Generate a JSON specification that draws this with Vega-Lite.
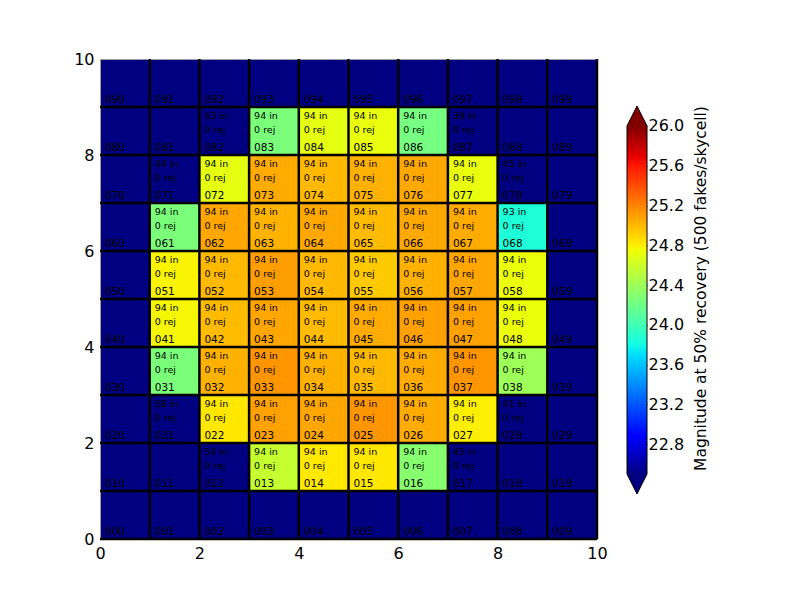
{
  "$schema": "https://vega.github.io/schema/vega-lite/v6.json",
  "autosize": {"type": "pad"},
  "padding": {"left": 69, "top": 50, "right": 20, "bottom": 20},
  "background": "white",
  "spacing": 30,
  "bounds": "flush",
  "config": {
    "font": "DejaVu Sans",
    "axis": {"labelFont": "DejaVu Sans", "titleFont": "DejaVu Sans", "labelColor": "black", "titleColor": "black", "grid": false}
  },
  "hconcat": [
    {
      "width": 497,
      "height": 480,
      "view": {"stroke": "#a0a0a0", "strokeWidth": 1, "fill": "#000080"},
      "data": {"values": [
        {"c":0,"r":9,"id":"090"},{"c":1,"r":9,"id":"091"},{"c":2,"r":9,"id":"092"},{"c":3,"r":9,"id":"093"},{"c":4,"r":9,"id":"094"},
        {"c":5,"r":9,"id":"095"},{"c":6,"r":9,"id":"096"},{"c":7,"r":9,"id":"097"},{"c":8,"r":9,"id":"098"},{"c":9,"r":9,"id":"099"},
        {"c":0,"r":8,"id":"080"},{"c":1,"r":8,"id":"081"},{"c":2,"r":8,"id":"082","n_in":43,"n_rej":0},
        {"c":3,"r":8,"id":"083","n_in":94,"n_rej":0,"mag":24.25},{"c":4,"r":8,"id":"084","n_in":94,"n_rej":0,"mag":24.70},
        {"c":5,"r":8,"id":"085","n_in":94,"n_rej":0,"mag":24.72},{"c":6,"r":8,"id":"086","n_in":94,"n_rej":0,"mag":24.23},
        {"c":7,"r":8,"id":"087","n_in":39,"n_rej":0},{"c":8,"r":8,"id":"088"},{"c":9,"r":8,"id":"089"},
        {"c":0,"r":7,"id":"070"},{"c":1,"r":7,"id":"071","n_in":44,"n_rej":0},
        {"c":2,"r":7,"id":"072","n_in":94,"n_rej":0,"mag":24.70},{"c":3,"r":7,"id":"073","n_in":94,"n_rej":0,"mag":25.05},
        {"c":4,"r":7,"id":"074","n_in":94,"n_rej":0,"mag":25.00},{"c":5,"r":7,"id":"075","n_in":94,"n_rej":0,"mag":25.03},
        {"c":6,"r":7,"id":"076","n_in":94,"n_rej":0,"mag":25.06},{"c":7,"r":7,"id":"077","n_in":94,"n_rej":0,"mag":24.72},
        {"c":8,"r":7,"id":"078","n_in":45,"n_rej":0},{"c":9,"r":7,"id":"079"},
        {"c":0,"r":6,"id":"060"},{"c":1,"r":6,"id":"061","n_in":94,"n_rej":0,"mag":24.25},
        {"c":2,"r":6,"id":"062","n_in":94,"n_rej":0,"mag":25.07},{"c":3,"r":6,"id":"063","n_in":94,"n_rej":0,"mag":25.02},
        {"c":4,"r":6,"id":"064","n_in":94,"n_rej":0,"mag":25.06},{"c":5,"r":6,"id":"065","n_in":94,"n_rej":0,"mag":24.99},
        {"c":6,"r":6,"id":"066","n_in":94,"n_rej":0,"mag":25.06},{"c":7,"r":6,"id":"067","n_in":94,"n_rej":0,"mag":25.05},
        {"c":8,"r":6,"id":"068","n_in":93,"n_rej":0,"mag":23.86},{"c":9,"r":6,"id":"069"},
        {"c":0,"r":5,"id":"050"},{"c":1,"r":5,"id":"051","n_in":94,"n_rej":0,"mag":24.78},
        {"c":2,"r":5,"id":"052","n_in":94,"n_rej":0,"mag":25.00},{"c":3,"r":5,"id":"053","n_in":94,"n_rej":0,"mag":25.10},
        {"c":4,"r":5,"id":"054","n_in":94,"n_rej":0,"mag":25.00},{"c":5,"r":5,"id":"055","n_in":94,"n_rej":0,"mag":24.94},
        {"c":6,"r":5,"id":"056","n_in":94,"n_rej":0,"mag":25.03},{"c":7,"r":5,"id":"057","n_in":94,"n_rej":0,"mag":25.07},
        {"c":8,"r":5,"id":"058","n_in":94,"n_rej":0,"mag":24.73},{"c":9,"r":5,"id":"059"},
        {"c":0,"r":4,"id":"040"},{"c":1,"r":4,"id":"041","n_in":94,"n_rej":0,"mag":24.77},
        {"c":2,"r":4,"id":"042","n_in":94,"n_rej":0,"mag":24.99},{"c":3,"r":4,"id":"043","n_in":94,"n_rej":0,"mag":25.07},
        {"c":4,"r":4,"id":"044","n_in":94,"n_rej":0,"mag":24.99},{"c":5,"r":4,"id":"045","n_in":94,"n_rej":0,"mag":25.05},
        {"c":6,"r":4,"id":"046","n_in":94,"n_rej":0,"mag":25.09},{"c":7,"r":4,"id":"047","n_in":94,"n_rej":0,"mag":25.09},
        {"c":8,"r":4,"id":"048","n_in":94,"n_rej":0,"mag":24.73},{"c":9,"r":4,"id":"049"},
        {"c":0,"r":3,"id":"030"},{"c":1,"r":3,"id":"031","n_in":94,"n_rej":0,"mag":24.25},
        {"c":2,"r":3,"id":"032","n_in":94,"n_rej":0,"mag":25.03},{"c":3,"r":3,"id":"033","n_in":94,"n_rej":0,"mag":25.13},
        {"c":4,"r":3,"id":"034","n_in":94,"n_rej":0,"mag":25.03},{"c":5,"r":3,"id":"035","n_in":94,"n_rej":0,"mag":25.00},
        {"c":6,"r":3,"id":"036","n_in":94,"n_rej":0,"mag":25.05},{"c":7,"r":3,"id":"037","n_in":94,"n_rej":0,"mag":25.13},
        {"c":8,"r":3,"id":"038","n_in":94,"n_rej":0,"mag":24.40},{"c":9,"r":3,"id":"039"},
        {"c":0,"r":2,"id":"020"},{"c":1,"r":2,"id":"021","n_in":58,"n_rej":0},
        {"c":2,"r":2,"id":"022","n_in":94,"n_rej":0,"mag":24.83},{"c":3,"r":2,"id":"023","n_in":94,"n_rej":0,"mag":25.09},
        {"c":4,"r":2,"id":"024","n_in":94,"n_rej":0,"mag":25.07},{"c":5,"r":2,"id":"025","n_in":94,"n_rej":0,"mag":25.13},
        {"c":6,"r":2,"id":"026","n_in":94,"n_rej":0,"mag":25.05},{"c":7,"r":2,"id":"027","n_in":94,"n_rej":0,"mag":24.80},
        {"c":8,"r":2,"id":"028","n_in":41,"n_rej":0},{"c":9,"r":2,"id":"029"},
        {"c":0,"r":1,"id":"010"},{"c":1,"r":1,"id":"011"},{"c":2,"r":1,"id":"012","n_in":54,"n_rej":0},
        {"c":3,"r":1,"id":"013","n_in":94,"n_rej":0,"mag":24.57},{"c":4,"r":1,"id":"014","n_in":94,"n_rej":0,"mag":24.82},
        {"c":5,"r":1,"id":"015","n_in":94,"n_rej":0,"mag":24.83},{"c":6,"r":1,"id":"016","n_in":94,"n_rej":0,"mag":24.30},
        {"c":7,"r":1,"id":"017","n_in":45,"n_rej":0},{"c":8,"r":1,"id":"018"},{"c":9,"r":1,"id":"019"},
        {"c":0,"r":0,"id":"000"},{"c":1,"r":0,"id":"001"},{"c":2,"r":0,"id":"002"},{"c":3,"r":0,"id":"003"},{"c":4,"r":0,"id":"004"},
        {"c":5,"r":0,"id":"005"},{"c":6,"r":0,"id":"006"},{"c":7,"r":0,"id":"007"},{"c":8,"r":0,"id":"008"},{"c":9,"r":0,"id":"009"}
      ]},
      "transform": [
        {"calculate": "datum.c + 1", "as": "c1"},
        {"calculate": "datum.r + 1", "as": "r1"},
        {"calculate": "datum.r + 0.75", "as": "y_in"},
        {"calculate": "datum.r + 0.455", "as": "y_rej"},
        {"calculate": "datum.r + 0.09", "as": "y_id"},
        {"calculate": "isValid(datum.n_in) ? datum.n_in + ' in' : ''", "as": "lab_in"},
        {"calculate": "isValid(datum.n_rej) ? datum.n_rej + ' rej' : ''", "as": "lab_rej"}
      ],
      "layer": [
        {
          "transform": [{"filter": "isValid(datum.mag)"}],
          "mark": {"type": "rect", "strokeWidth": 0},
          "encoding": {
            "x": {"field": "c", "type": "quantitative", "title": null,
                  "scale": {"domain": [0, 10], "nice": false, "zero": false},
                  "axis": {"values": [0, 2, 4, 6, 8, 10], "ticks": false, "domain": false, "labelFontSize": 16, "labelPadding": 6, "labelFlush": false}},
            "x2": {"field": "c1"},
            "y": {"field": "r", "type": "quantitative", "title": null,
                  "scale": {"domain": [0, 10], "nice": false, "zero": false},
                  "axis": {"values": [0, 2, 4, 6, 8, 10], "ticks": false, "domain": false, "labelFontSize": 16, "labelPadding": 6, "labelFlush": false,
                           "minExtent": 30, "maxExtent": 30}},
            "y2": {"field": "r1"},
            "color": {
              "field": "mag", "type": "quantitative", "legend": null,
              "scale": {
                "domain": [22.5, 22.885, 23.69, 23.8125, 24.74, 24.81, 25.615, 25.685, 26.0],
                "range": ["#000080", "#0000ff", "#00dbff", "#14ffe2", "#eeff08", "#ffec00", "#ff1300", "#e80000", "#800000"],
                "interpolate": "rgb", "clamp": true
              }
            }
          }
        },
        {
          "data": {"values": [{"gx":1},{"gx":2},{"gx":3},{"gx":4},{"gx":5},{"gx":6},{"gx":7},{"gx":8},{"gx":9},{"gx":10}]},
          "mark": {"type": "rule", "color": "black", "strokeWidth": 2.5},
          "encoding": {"x": {"field": "gx", "type": "quantitative", "title": null}}
        },
        {
          "data": {"values": [{"gy":0},{"gy":1},{"gy":2},{"gy":3},{"gy":4},{"gy":5},{"gy":6},{"gy":7},{"gy":8},{"gy":9}]},
          "mark": {"type": "rule", "color": "black", "strokeWidth": 2.5},
          "encoding": {"y": {"field": "gy", "type": "quantitative", "title": null}}
        },
        {
          "mark": {"type": "text", "align": "left", "baseline": "alphabetic", "dx": 5, "fontSize": 9.5, "color": "black"},
          "encoding": {
            "x": {"field": "c", "type": "quantitative", "title": null},
            "y": {"field": "y_in", "type": "quantitative", "title": null},
            "text": {"field": "lab_in"}
          }
        },
        {
          "mark": {"type": "text", "align": "left", "baseline": "alphabetic", "dx": 5, "fontSize": 9.5, "color": "black"},
          "encoding": {
            "x": {"field": "c", "type": "quantitative", "title": null},
            "y": {"field": "y_rej", "type": "quantitative", "title": null},
            "text": {"field": "lab_rej"}
          }
        },
        {
          "mark": {"type": "text", "align": "left", "baseline": "alphabetic", "dx": 5, "fontSize": 10.5, "color": "black"},
          "encoding": {
            "x": {"field": "c", "type": "quantitative", "title": null},
            "y": {"field": "y_id", "type": "quantitative", "title": null},
            "text": {"field": "id"}
          }
        }
      ]
    },
    {
      "width": 20,
      "height": 480,
      "view": {"stroke": null},
      "layer": [
        {
          "data": {"values": [{"x0": 0, "x1": 1, "lo": 22.5, "hi": 26.0}]},
          "mark": {
            "type": "rect",
            "fill": {
              "gradient": "linear", "x1": 0, "y1": 1, "x2": 0, "y2": 0,
              "stops": [
                {"offset": 0, "color": "#000080"},
                {"offset": 0.11, "color": "#0000ff"},
                {"offset": 0.34, "color": "#00dbff"},
                {"offset": 0.375, "color": "#14ffe2"},
                {"offset": 0.64, "color": "#eeff08"},
                {"offset": 0.66, "color": "#ffec00"},
                {"offset": 0.89, "color": "#ff1300"},
                {"offset": 0.91, "color": "#e80000"},
                {"offset": 1, "color": "#800000"}
              ]
            }
          },
          "encoding": {
            "x": {"field": "x0", "type": "quantitative", "axis": null, "scale": {"domain": [0, 1], "nice": false, "zero": false}},
            "x2": {"field": "x1"},
            "y": {"field": "lo", "type": "quantitative",
                  "scale": {"domain": [21.847, 26.673], "nice": false, "zero": false},
                  "axis": {
                    "orient": "right", "values": [22.8, 23.2, 23.6, 24.0, 24.4, 24.8, 25.2, 25.6, 26.0], "format": ".1f",
                    "domain": false, "tickSize": -7, "tickColor": "black", "labelFontSize": 16, "labelPadding": 8, "labelFlush": false,
                    "title": "Magnitude at 50% recovery (500 fakes/skycell)", "titleFontSize": 15.5, "titleFontWeight": "normal",
                    "titleAngle": 270, "titleAlign": "center", "titleBaseline": "alphabetic", "titleX": 58, "titleY": 229
                  }},
            "y2": {"field": "hi"}
          }
        },
        {
          "data": {"values": [{"px": 0, "py": 26.0, "pb": 26.0}, {"px": 0.5, "py": 26.2, "pb": 26.0}, {"px": 1, "py": 26.0, "pb": 26.0}]},
          "mark": {"type": "area", "color": "#800000", "opacity": 1},
          "encoding": {
            "x": {"field": "px", "type": "quantitative"},
            "y": {"field": "py", "type": "quantitative"},
            "y2": {"field": "pb"}
          }
        },
        {
          "data": {"values": [{"px": 0, "py": 22.5, "pb": 22.5}, {"px": 0.5, "py": 22.3, "pb": 22.5}, {"px": 1, "py": 22.5, "pb": 22.5}]},
          "mark": {"type": "area", "color": "#000080", "opacity": 1},
          "encoding": {
            "x": {"field": "px", "type": "quantitative"},
            "y": {"field": "py", "type": "quantitative"},
            "y2": {"field": "pb"}
          }
        },
        {
          "data": {"values": [
            {"k": 0, "ox": 0, "oy": 22.5}, {"k": 1, "ox": 0, "oy": 26.0}, {"k": 2, "ox": 0.5, "oy": 26.2},
            {"k": 3, "ox": 1, "oy": 26.0}, {"k": 4, "ox": 1, "oy": 22.5}, {"k": 5, "ox": 0.5, "oy": 22.3},
            {"k": 6, "ox": 0, "oy": 22.5}
          ]},
          "mark": {"type": "line", "color": "black", "strokeWidth": 1},
          "encoding": {
            "x": {"field": "ox", "type": "quantitative"},
            "y": {"field": "oy", "type": "quantitative"},
            "order": {"field": "k", "type": "quantitative"}
          }
        }
      ]
    }
  ]
}
